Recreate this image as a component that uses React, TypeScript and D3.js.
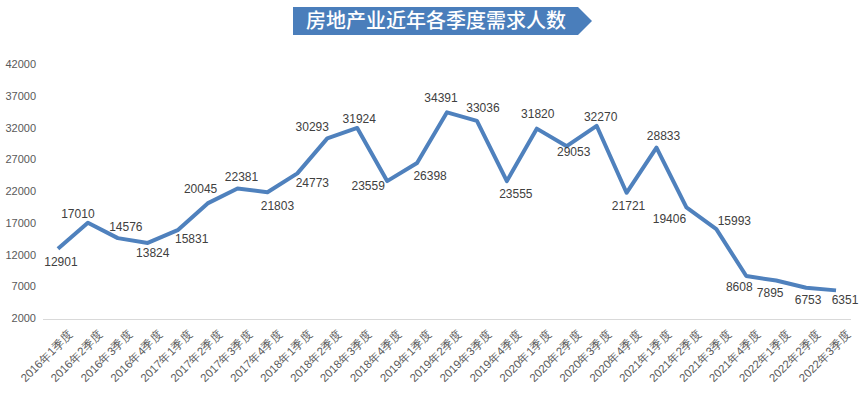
import React from "react";
import * as d3 from "d3";

const W = 861;
const H = 397;

// quarters and demand counts
const years = ["2016", "2017", "2018", "2019", "2020", "2021", "2022"];
const quarters = years.flatMap((y) => [1, 2, 3, 4].map((q) => `${y}年${q}季度`)).slice(0, 27);
const demand = [
  12901, 17010, 14576, 13824, 15831, 20045, 22381, 21803, 24773, 30293, 31924, 23559, 26398, 34391,
  33036, 23555, 31820, 29053, 32270, 21721, 28833, 19406, 15993, 8608, 7895, 6753, 6351,
];
const yTicks = [2000, 7000, 12000, 17000, 22000, 27000, 32000, 37000, 42000];
const title = "房地产业近年各季度需求人数";

// label nudges (px) relative to each point, as placed in the original
const labelDx = [3, -10, 8, 5, 14, -7, 4, 10, 15, -15, 2, -19, 13, -6, 6, 9, 1, 7, 4, 2, 7, -17, 18, -7, -6, 2, 9];
const labelDy = [13, -9, -11, 10, 9, -14, -12, 14, 10, -11, -9, 5, 13, -14, -13, 13, -15, 6, -9, 13, -12, 12, -8, 11, 12, 12, 10];

export default function App() {
  const x = d3.scalePoint<string>().domain(quarters).range([43, 851]).padding(0.5);
  const y = d3.scaleLinear().domain([2000, 42000]).range([318, 64]);

  const line = d3
    .line<number>()
    .x((_, i) => x(quarters[i]) as number)
    .y((d) => y(d));

  const gray = "#595959";
  const font = "'Liberation Sans', Arial, sans-serif";

  return (
    <svg width={W} height={H} style={{ position: "absolute", left: 0, top: 0, background: "#fff" }}>
      {/* title banner */}
      <polygon points="293,7 578,7 592,21 578,35 293,35" fill="#4A7EBB" />
      <text
        x={436}
        y={28}
        textAnchor="middle"
        fill="#fff"
        fontSize={20}
        fontWeight={500}
        fontFamily="'Noto Sans CJK SC', sans-serif"
      >
        {title}
      </text>

      {/* y axis labels */}
      {yTicks.map((t) => (
        <text key={t} x={36} y={y(t) + 4} textAnchor="end" fontSize={11} fill={gray} fontFamily={font}>
          {t}
        </text>
      ))}

      {/* baseline */}
      <line x1={43} x2={851} y1={319.5} y2={319.5} stroke="#d9d9d9" strokeWidth={1} />

      {/* x labels */}
      {quarters.map((q) => (
        <text
          key={q}
          transform={`translate(${(x(q) as number) + 10},${329}) rotate(-45)`}
          textAnchor="end"
          dominantBaseline="hanging"
          fontSize={11.5}
          fill={gray}
          fontFamily={font}
        >
          {q}
        </text>
      ))}

      <path d={line(demand) || ""} fill="none" stroke="#4F81BD" strokeWidth={4} strokeLinejoin="round" />

      {/* data labels */}
      {demand.map((v, i) => (
        <text
          key={i}
          x={(x(quarters[i]) as number) + labelDx[i]}
          y={y(v) + labelDy[i] + 4}
          textAnchor="middle"
          fontSize={12}
          fill="#404040"
          fontFamily={font}
        >
          {v}
        </text>
      ))}
    </svg>
  );
}
